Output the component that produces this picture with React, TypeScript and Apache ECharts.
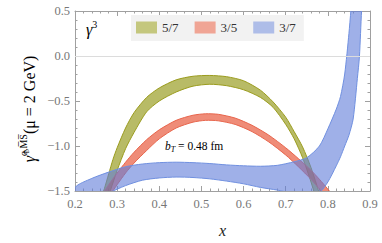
import React, { useEffect, useRef } from "react";
import * as echarts from "echarts";

// ---- data ----
const GREEN_X = [0.26, 0.27, 0.28, 0.29, 0.30, 0.32, 0.34, 0.37, 0.40, 0.44, 0.48, 0.52, 0.56, 0.60, 0.64, 0.67, 0.70, 0.72, 0.74, 0.76, 0.78, 0.79];
const GREEN_UPPER = [-1.62, -1.47, -1.31, -1.15, -1.02, -0.80, -0.63, -0.46, -0.355, -0.265, -0.225, -0.216, -0.23, -0.275, -0.38, -0.51, -0.68, -0.84, -1.01, -1.24, -1.53, -1.70];
const GREEN_LOWER = [-1.85, -1.72, -1.55, -1.41, -1.27, -1.03, -0.85, -0.62, -0.50, -0.40, -0.335, -0.314, -0.33, -0.375, -0.46, -0.57, -0.76, -0.92, -1.13, -1.40, -1.72, -1.90];

const RED_X = [0.26, 0.27, 0.28, 0.29, 0.30, 0.32, 0.34, 0.37, 0.40, 0.44, 0.48, 0.51, 0.54, 0.58, 0.62, 0.66, 0.70, 0.73, 0.76, 0.78, 0.80, 0.82];
const RED_UPPER = [-1.58, -1.50, -1.43, -1.365, -1.30, -1.18, -1.07, -0.93, -0.82, -0.715, -0.658, -0.642, -0.648, -0.69, -0.77, -0.88, -1.02, -1.14, -1.27, -1.37, -1.48, -1.60];
const RED_LOWER = [-1.80, -1.69, -1.59, -1.50, -1.43, -1.30, -1.19, -1.05, -0.92, -0.80, -0.735, -0.715, -0.72, -0.76, -0.84, -0.955, -1.10, -1.23, -1.37, -1.48, -1.60, -1.72];

const BLUE_X = [0.20, 0.24, 0.28, 0.32, 0.36, 0.40, 0.44, 0.48, 0.52, 0.56, 0.60, 0.64, 0.68, 0.72, 0.75, 0.78, 0.80, 0.82, 0.83, 0.84, 0.85, 0.86, 0.87, 0.875, 0.88, 0.89, 0.90];
const BLUE_UPPER = [-1.46, -1.36, -1.29, -1.23, -1.20, -1.185, -1.18, -1.185, -1.195, -1.21, -1.22, -1.225, -1.215, -1.175, -1.13, -1.0, -0.81, -0.59, -0.45, -0.2, 0.25, 0.8, 1.3, 1.6, 2.0, 2.8, 3.6];
const BLUE_LOWER = [-1.62, -1.58, -1.52, -1.44, -1.38, -1.355, -1.345, -1.35, -1.365, -1.39, -1.42, -1.46, -1.49, -1.53, -1.56, -1.52, -1.40, -1.22, -1.12, -1.0, -0.88, -0.70, -0.25, 0.0, 0.5, 1.2, 2.0];

const LEGEND_NAMES = ["5/7", "3/5", "3/7"];
const X_TICKS = { min: 0.2, max: 0.9, step: 0.1 };
const Y_TICKS = { min: -1.5, max: 0.5, step: 0.5 };

const SERIF = "Liberation Serif";
const FRAME = "#a0a0a0";

function bandPolygon(xs: number[], upper: number[], lower: number[]) {
  const top = xs.map((x, i) => [x, upper[i]]);
  const bottom = xs.map((x, i) => [x, lower[i]]).reverse();
  return top.concat(bottom);
}

function band(name: string, xs: number[], upper: number[], lower: number[], fill: string, edge: string, z: number) {
  const poly = bandPolygon(xs, upper, lower);
  return {
    name,
    type: "custom",
    coordinateSystem: "cartesian2d",
    clip: true,
    silent: true,
    z,
    itemStyle: { color: edge },
    encode: { x: 0, y: 1 },
    data: poly,
    renderItem: (params: any, api: any) => {
      if (params.dataIndex !== 0) return null;
      const pts = poly.map((p) => api.coord(p));
      return {
        type: "polygon",
        shape: { points: pts, smooth: 0.25 },
        style: { fill, stroke: edge, lineWidth: 1 },
      };
    },
  };
}

const fmt = (v: number) => v.toFixed(1).replace("-", "\u2212");

export default function App() {
  const ref = useRef<HTMLDivElement>(null);
  useEffect(() => {
    if (!ref.current) return;
    const chart = echarts.init(ref.current, undefined, { renderer: "svg" });
    const axisCommon = {
      type: "value",
      axisLine: { show: true, onZero: false, lineStyle: { color: FRAME, width: 1 } },
      axisTick: { show: true, inside: true, length: 5, lineStyle: { color: FRAME } },
      minorTick: { show: true, splitNumber: 5, length: 2.5, lineStyle: { color: FRAME } },
      splitLine: { show: false },
    };
    chart.setOption({
      animation: false,
      backgroundColor: "#ffffff",
      textStyle: { fontFamily: SERIF },
      grid: { left: 75, right: 12, top: 11, bottom: 50, containLabel: false },
      legend: {
        left: 131,
        top: 15,
        backgroundColor: "#f2f2f2",
        padding: [6, 8, 7, 5],
        itemGap: 16,
        itemWidth: 21,
        itemHeight: 12,
        icon: "rect",
        textStyle: { fontFamily: SERIF, fontSize: 13, color: "#333" },
        itemStyle: { borderWidth: 0 },
        data: [
          { name: LEGEND_NAMES[0], itemStyle: { color: "#c4c77e", borderWidth: 0 } },
          { name: LEGEND_NAMES[1], itemStyle: { color: "#f0a595", borderWidth: 0 } },
          { name: LEGEND_NAMES[2], itemStyle: { color: "#aebde8", borderWidth: 0 } },
        ],
      },
      xAxis: [
        {
          ...axisCommon,
          position: "bottom",
          min: X_TICKS.min,
          max: X_TICKS.max,
          interval: X_TICKS.step,
          axisLabel: { formatter: fmt, color: "#777", fontFamily: SERIF, fontSize: 12.5, margin: 6 },
          name: "x",
          nameLocation: "middle",
          nameGap: 31,
          nameTextStyle: { fontFamily: SERIF, fontStyle: "italic", fontSize: 16, color: "#222" },
        },
        {
          ...axisCommon,
          position: "top",
          min: X_TICKS.min,
          max: X_TICKS.max,
          interval: X_TICKS.step,
          axisLabel: { show: false },
        },
      ],
      yAxis: [
        {
          ...axisCommon,
          position: "left",
          min: Y_TICKS.min,
          max: Y_TICKS.max,
          interval: Y_TICKS.step,
          axisLabel: { formatter: fmt, color: "#777", fontFamily: SERIF, fontSize: 12.5, margin: 5 },
        },
        {
          ...axisCommon,
          position: "right",
          min: Y_TICKS.min,
          max: Y_TICKS.max,
          interval: Y_TICKS.step,
          axisLabel: { show: false },
        },
      ],
      graphic: [
        {
          type: "text",
          x: 29,
          y: 109,
          rotation: Math.PI / 2,
          style: {
            text: "{g|\u03b3\u0302}{s|q,M\u0305S\u0305}{n|(\u03bc = 2 GeV)}",
            align: "center",
            verticalAlign: "middle",
            rich: {
              g: { fontFamily: SERIF, fontSize: 16, fontStyle: "italic", color: "#222", lineHeight: 22 },
              s: { fontFamily: SERIF, fontSize: 10, color: "#222", verticalAlign: "top", lineHeight: 12 },
              n: { fontFamily: SERIF, fontSize: 16, color: "#222", lineHeight: 22 },
            },
          },
        },
        {
          type: "text",
          left: 86,
          top: 19,
          style: {
            text: "{g|\u03b3}{s|3}",
            rich: {
              g: { fontFamily: SERIF, fontSize: 16, fontStyle: "italic", color: "#222", lineHeight: 20 },
              s: { fontFamily: SERIF, fontSize: 10, color: "#222", verticalAlign: "top", lineHeight: 12 },
            },
          },
        },
        {
          type: "text",
          x: 165,
          y: 146,
          style: {
            text: "{b|b}{t|T}{n| = 0.48 fm}",
            verticalAlign: "middle",
            rich: {
              b: { fontFamily: SERIF, fontSize: 11.5, fontStyle: "italic", color: "#222", lineHeight: 14 },
              t: { fontFamily: SERIF, fontSize: 8, fontStyle: "italic", color: "#222", verticalAlign: "bottom", lineHeight: 9 },
              n: { fontFamily: SERIF, fontSize: 11.5, color: "#222", lineHeight: 14 },
            },
          },
        },
      ],
      series: [
        {
          type: "line",
          data: [],
          markLine: {
            silent: true,
            symbol: "none",
            label: { show: false },
            lineStyle: { color: "#dcdcdc", width: 1, type: "solid" },
            data: [{ yAxis: 0 }],
          },
          z: 1,
        },
        band(LEGEND_NAMES[0], GREEN_X, GREEN_UPPER, GREEN_LOWER, "rgba(137,142,0,0.6)", "#9b9c1e", 2),
        band(LEGEND_NAMES[1], RED_X, RED_UPPER, RED_LOWER, "rgba(228,63,30,0.6)", "#e8654c", 3),
        band(LEGEND_NAMES[2], BLUE_X, BLUE_UPPER, BLUE_LOWER, "rgba(95,123,217,0.6)", "#7090e0", 4),
      ],
    });
    return () => chart.dispose();
  }, []);
  return <div ref={ref} style={{ width: 382, height: 243, position: "absolute", left: 0, top: 0 }} />;
}
